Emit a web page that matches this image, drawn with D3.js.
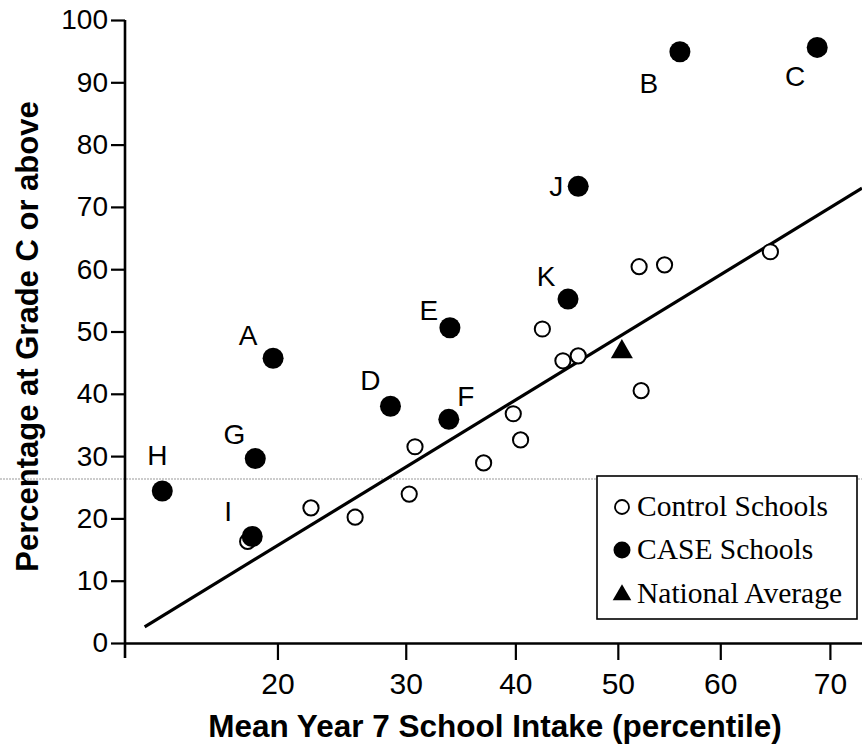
<!DOCTYPE html>
<html><head><meta charset="utf-8">
<script src="https://cdn.jsdelivr.net/npm/d3@7"></script>
<style>
html,body{margin:0;padding:0;background:#fff;}
svg{display:block;}
</style></head><body>
<svg id="chart" width="862" height="745"></svg>
<script>
// ---------------- data ----------------
const xTicks = [20, 30, 40, 50, 60, 70];
const yTicks = [0, 10, 20, 30, 40, 50, 60, 70, 80, 90, 100];

const caseNames = ["A", "B", "C", "D", "E", "F", "G", "H", "I", "J", "K"];
const caseX = [19.7, 56.1, 68.9, 28.7, 33.9, 33.8, 18.5, 13.0, 18.3, 46.1, 45.1];
const caseY = [45.7, 94.9, 95.6, 38.0, 50.6, 35.9, 29.6, 24.4, 17.1, 73.3, 55.2];

const controlX = [18.0, 22.4, 25.8, 30.3, 30.8, 37.0, 39.8, 40.5, 42.6, 44.6, 46.1, 52.1, 54.6, 52.3, 64.7];
const controlY = [16.3, 21.7, 20.2, 23.9, 31.5, 28.9, 36.8, 32.6, 50.4, 45.3, 46.1, 60.4, 60.7, 40.5, 62.8];

const nationalX = [50.4];
const nationalY = [46.9];

const fitX = [12.1, 72.7];
const fitY = [2.6, 73.0];

const legendLabels = ["Control Schools", "CASE Schools", "National Average"];
const xTitle = "Mean Year 7 School Intake (percentile)";
const yTitle = "Percentage at Grade C or above";

// label placement (pixel offsets from each point: text centre x, baseline y)
const labelOffset = {A:[-25,-13], B:[-31,41], C:[-22,39], D:[-20,-16], E:[-21,-8],
  F:[17,-13], G:[-21,-15], H:[-5,-26], I:[-24,-15], J:[-22,10], K:[-22,-13]};

// ---------------- helpers ----------------
// inverse of the standard normal CDF (Acklam)
function probit(p) {
  const a = [-3.969683028665376e+01, 2.209460984245205e+02, -2.759285104469687e+02, 1.383577518672690e+02, -3.066479806614716e+01, 2.506628277459239e+00];
  const b = [-5.447609879822406e+01, 1.615858368580409e+02, -1.556989798598866e+02, 6.680131188771972e+01, -1.328068155288572e+01];
  const c = [-7.784894002430293e-03, -3.223964580411365e-01, -2.400758277161838e+00, -2.549671348740160e+00, 4.374664141464968e+00, 2.938163982698783e+00];
  const d = [7.784695709041462e-03, 3.224671290700398e-01, 2.445134137142996e+00, 3.754408661907416e+00];
  const pl = 0.02425, ph = 1 - pl;
  let q, r;
  if (p < pl) { q = Math.sqrt(-2 * Math.log(p)); return (((((c[0]*q+c[1])*q+c[2])*q+c[3])*q+c[4])*q+c[5]) / ((((d[0]*q+d[1])*q+d[2])*q+d[3])*q+1); }
  if (p > ph) { q = Math.sqrt(-2 * Math.log(1 - p)); return -(((((c[0]*q+c[1])*q+c[2])*q+c[3])*q+c[4])*q+c[5]) / ((((d[0]*q+d[1])*q+d[2])*q+d[3])*q+1); }
  q = p - 0.5; r = q * q;
  return (((((a[0]*r+a[1])*r+a[2])*r+a[3])*r+a[4])*r+a[5])*q / (((((b[0]*r+b[1])*r+b[2])*r+b[3])*r+b[4])*r+1);
}

// ---------------- scales ----------------
const X_MIN = 11.15, X_MAX = 72.7;
const xScale = d3.scaleLinear().domain([probit(X_MIN / 100), probit(X_MAX / 100)]).range([125, 862]);
const yScale = d3.scaleLinear().domain([0, 100]).range([643, 20]);
const px = p => xScale(probit(p / 100));

const svg = d3.select("#chart");
svg.append("rect").attr("width", 862).attr("height", 745).attr("fill", "#fff");

// faint scan fold line
svg.append("line").attr("x1", 0).attr("x2", 862).attr("y1", 479).attr("y2", 479)
  .attr("stroke", "#999").attr("stroke-width", 1.2).attr("stroke-dasharray", "2,1");

// ---------------- axes ----------------
const sans = "'Liberation Sans', Arial, Helvetica, sans-serif";
const serif = "'Liberation Serif', 'Times New Roman', serif";

const yAxis = svg.append("g").attr("transform", `translate(${xScale.range()[0]},0)`)
  .call(d3.axisLeft(yScale).tickValues(yTicks).tickSize(14).tickPadding(3).tickSizeOuter(0));
yAxis.select(".domain").remove();
yAxis.selectAll(".tick line").attr("stroke", "#000").attr("stroke-width", 2.2);
yAxis.selectAll(".tick text").attr("font-family", sans).attr("font-size", 28).attr("fill", "#000");
svg.append("line").attr("x1", xScale.range()[0]).attr("x2", xScale.range()[0])
  .attr("y1", yScale(0) + 15).attr("y2", yScale(100)).attr("stroke", "#000").attr("stroke-width", 2.6);

const xAxis = svg.append("g").attr("transform", `translate(0,${yScale(0)})`)
  .call(d3.axisBottom(xScale).tickValues(xTicks.map(p => probit(p / 100)))
    .tickFormat((d, i) => xTicks[i]).tickSize(17).tickPadding(13).tickSizeOuter(0));
xAxis.select(".domain").attr("stroke", "#000").attr("stroke-width", 2.6);
xAxis.selectAll(".tick line").attr("stroke", "#000").attr("stroke-width", 2.2);
xAxis.selectAll(".tick text").attr("font-family", sans).attr("font-size", 30).attr("fill", "#000");

// axis titles
svg.append("text").attr("x", 495).attr("y", 737).attr("text-anchor", "middle")
  .attr("font-family", sans).attr("font-weight", "bold").attr("font-size", 31.5).text(xTitle);
svg.append("text").attr("transform", "translate(38,336.5) rotate(-90)").attr("text-anchor", "middle")
  .attr("font-family", sans).attr("font-weight", "bold").attr("font-size", 31).text(yTitle);

// ---------------- regression line ----------------
svg.append("path").datum(fitX.map((x, i) => [x, fitY[i]]))
  .attr("d", d3.line().x(d => px(d[0])).y(d => yScale(d[1])))
  .attr("fill", "none").attr("stroke", "#000").attr("stroke-width", 3.2);

// ---------------- control schools ----------------
svg.append("g").selectAll("circle").data(controlX.map((x, i) => [x, controlY[i]])).join("circle")
  .attr("cx", d => px(d[0])).attr("cy", d => yScale(d[1])).attr("r", 7.6)
  .attr("fill", "#fff").attr("stroke", "#000").attr("stroke-width", 2);

// ---------------- national average ----------------
const tri = d3.symbol().type(d3.symbolTriangle).size(210);
svg.append("g").selectAll("path").data(nationalX.map((x, i) => [x, nationalY[i]])).join("path")
  .attr("d", tri).attr("transform", d => `translate(${px(d[0])},${yScale(d[1]) + 1})`).attr("fill", "#000");

// ---------------- CASE schools ----------------
const caseData = caseNames.map((n, i) => ({name: n, x: caseX[i], y: caseY[i]}));
svg.append("g").selectAll("circle").data(caseData).join("circle")
  .attr("cx", d => px(d.x)).attr("cy", d => yScale(d.y)).attr("r", 10.5).attr("fill", "#000");
svg.append("g").selectAll("text").data(caseData).join("text")
  .attr("x", d => px(d.x) + labelOffset[d.name][0]).attr("y", d => yScale(d.y) + labelOffset[d.name][1])
  .attr("text-anchor", "middle").attr("font-family", sans).attr("font-size", 28).attr("fill", "#000")
  .text(d => d.name);

// ---------------- legend ----------------
const lg = svg.append("g");
lg.append("rect").attr("x", 597).attr("y", 476).attr("width", 260).attr("height", 143)
  .attr("fill", "#fff").attr("stroke", "#000").attr("stroke-width", 1.6);
const rowY = [507, 550, 594];
lg.append("circle").attr("cx", 622).attr("cy", rowY[0]).attr("r", 7).attr("fill", "#fff").attr("stroke", "#000").attr("stroke-width", 1.8);
lg.append("circle").attr("cx", 622).attr("cy", rowY[1]).attr("r", 8.5).attr("fill", "#000");
lg.append("path").attr("d", d3.symbol().type(d3.symbolTriangle).size(150)).attr("transform", `translate(622,${rowY[2] + 1})`).attr("fill", "#000");
lg.selectAll("text.leg").data(legendLabels).join("text").attr("class", "leg")
  .attr("x", 637).attr("y", (d, i) => rowY[i] + 9).attr("font-family", serif).attr("font-size", 29.5).attr("fill", "#000")
  .text(d => d);
</script>
</body></html>
